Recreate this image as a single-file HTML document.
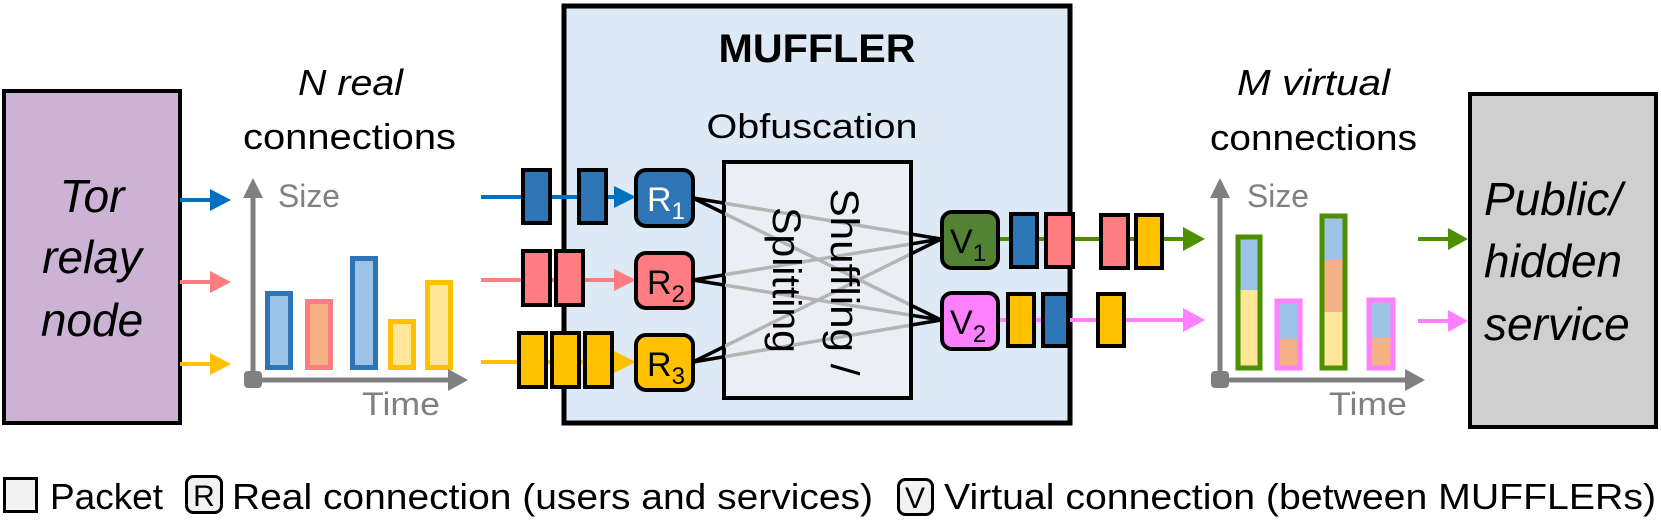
<!DOCTYPE html>
<html><head><meta charset="utf-8"><style>
html,body{margin:0;padding:0;background:#fff}
svg{display:block}
text{font-family:"Liberation Sans",sans-serif}
</style></head><body>
<svg width="1661" height="520" viewBox="0 0 1661 520" xmlns="http://www.w3.org/2000/svg">
<defs>
<clipPath id="inner"><rect x="725" y="163" width="184" height="233"/></clipPath>
</defs>

<!-- Tor relay node -->
<rect x="4" y="91" width="176" height="332" fill="#ccb3d6" stroke="#000" stroke-width="4"/>
<g font-style="italic" font-size="46" text-anchor="middle" fill="#000">
<text x="92" y="212">Tor</text>
<text x="92" y="273">relay</text>
<text x="92" y="336">node</text>
</g>
<!-- left arrows -->
<g stroke-width="4">
<line x1="180" y1="200" x2="212" y2="200" stroke="#0070c0"/>
<line x1="180" y1="282" x2="212" y2="282" stroke="#ff7c80"/>
<line x1="180" y1="364" x2="212" y2="364" stroke="#ffc000"/>
</g>
<polygon points="210,189 231,200 210,211" fill="#0070c0"/>
<polygon points="210,271 231,282 210,293" fill="#ff7c80"/>
<polygon points="210,353 231,364 210,375" fill="#ffc000"/>

<!-- left chart -->
<text x="298" y="95" font-style="italic" font-size="36" textLength="105" lengthAdjust="spacingAndGlyphs">N real</text>
<text x="243" y="149" font-size="36" textLength="213" lengthAdjust="spacingAndGlyphs">connections</text>
<text x="278" y="207" font-size="32" fill="#808080" textLength="62" lengthAdjust="spacingAndGlyphs">Size</text>
<text x="362" y="415" font-size="32" fill="#808080" textLength="78" lengthAdjust="spacingAndGlyphs">Time</text>
<g stroke-width="5">
<rect x="267.5" y="293.5" width="23" height="74" fill="#9dc3e6" stroke="#2e75b6"/>
<rect x="307.5" y="301.5" width="23" height="66" fill="#f4b183" stroke="#ff7c80"/>
<rect x="352.5" y="258.5" width="23" height="109" fill="#9dc3e6" stroke="#2e75b6"/>
<rect x="390.5" y="321.5" width="23" height="46" fill="#ffe699" stroke="#ffc000"/>
<rect x="427.5" y="282.5" width="23" height="85" fill="#ffe699" stroke="#ffc000"/>
</g>
<line x1="253" y1="190" x2="253" y2="380" stroke="#808080" stroke-width="5"/>
<polygon points="243,198 253,178 263,198" fill="#808080"/>
<line x1="253" y1="380" x2="452" y2="380" stroke="#808080" stroke-width="5"/>
<polygon points="448,369 468,380 448,391" fill="#808080"/>
<rect x="244" y="371" width="18" height="17" rx="4" fill="#808080"/>

<!-- MUFFLER -->
<rect x="564" y="6" width="506" height="417" fill="#dde9f5" stroke="#000" stroke-width="5"/>
<text x="817" y="62" font-weight="bold" font-size="40" text-anchor="middle" textLength="197" lengthAdjust="spacingAndGlyphs">MUFFLER</text>
<text x="812" y="138" font-size="34" text-anchor="middle" textLength="211" lengthAdjust="spacingAndGlyphs">Obfuscation</text>

<!-- black connector lines -->
<g stroke="#000" stroke-width="3.5">
<line x1="693" y1="198" x2="941" y2="239"/>
<line x1="693" y1="198" x2="941" y2="320"/>
<line x1="693" y1="280" x2="941" y2="239"/>
<line x1="693" y1="280" x2="941" y2="320"/>
<line x1="693" y1="362" x2="941" y2="239"/>
<line x1="693" y1="362" x2="941" y2="320"/>
</g>
<rect x="724" y="162" width="187" height="236" fill="#ebeff3" stroke="#000" stroke-width="4"/>
<g stroke="#b4b4b4" stroke-width="3.5" clip-path="url(#inner)">
<line x1="693" y1="198" x2="941" y2="239"/>
<line x1="693" y1="198" x2="941" y2="320"/>
<line x1="693" y1="280" x2="941" y2="239"/>
<line x1="693" y1="280" x2="941" y2="320"/>
<line x1="693" y1="362" x2="941" y2="239"/>
<line x1="693" y1="362" x2="941" y2="320"/>
</g>
<g transform="translate(817,282) rotate(90)" font-size="40" text-anchor="middle">
<text x="0" y="-14" textLength="187" lengthAdjust="spacingAndGlyphs">Shuffling /</text>
<text x="-2" y="44" textLength="146" lengthAdjust="spacingAndGlyphs">Splitting</text>
</g>

<!-- input lines -->
<line x1="481" y1="197" x2="616" y2="197" stroke="#0070c0" stroke-width="4"/>
<polygon points="614,186 636,197 614,208" fill="#0070c0"/>
<line x1="481" y1="280" x2="616" y2="280" stroke="#ff7c80" stroke-width="4"/>
<polygon points="614,269 636,280 614,291" fill="#ff7c80"/>
<line x1="481" y1="362" x2="616" y2="362" stroke="#ffc000" stroke-width="4"/>
<polygon points="614,351 636,362 614,373" fill="#ffc000"/>
<g stroke="#000" stroke-width="4">
<rect x="523" y="170" width="27" height="53" fill="#2e75b6"/>
<rect x="579" y="170" width="27" height="53" fill="#2e75b6"/>
<rect x="523" y="251" width="27" height="54" fill="#ff7c80"/>
<rect x="556" y="251" width="27" height="54" fill="#ff7c80"/>
<rect x="519" y="333" width="27" height="54" fill="#ffc000"/>
<rect x="552" y="333" width="27" height="54" fill="#ffc000"/>
<rect x="585" y="333" width="27" height="54" fill="#ffc000"/>
</g>
<!-- R boxes -->
<g stroke="#000" stroke-width="4">
<rect x="636" y="170" width="57" height="56" rx="10" fill="#2e75b6"/>
<rect x="636" y="253" width="57" height="55" rx="10" fill="#ff7c80"/>
<rect x="636" y="335" width="57" height="55" rx="10" fill="#ffc000"/>
</g>
<g font-size="34">
<text x="647" y="211" fill="#fff">R<tspan font-size="24" dy="8">1</tspan></text>
<text x="647" y="294">R<tspan font-size="24" dy="8">2</tspan></text>
<text x="647" y="376">R<tspan font-size="24" dy="8">3</tspan></text>
</g>

<!-- output lines -->
<line x1="998" y1="239" x2="1186" y2="239" stroke="#4e8f00" stroke-width="4"/>
<polygon points="1183,227 1205,239 1183,251" fill="#4e8f00"/>
<line x1="998" y1="320" x2="1186" y2="320" stroke="#ff80ff" stroke-width="4"/>
<polygon points="1183,308 1205,320 1183,332" fill="#ff80ff"/>
<g stroke="#000" stroke-width="4">
<rect x="1011" y="214" width="26" height="53" fill="#2e75b6"/>
<rect x="1046" y="214" width="27" height="53" fill="#ff7c80"/>
<rect x="1101" y="215" width="27" height="53" fill="#ff7c80"/>
<rect x="1136" y="215" width="26" height="53" fill="#ffc000"/>
<rect x="1008" y="294" width="26" height="52" fill="#ffc000"/>
<rect x="1043" y="294" width="25" height="52" fill="#2e75b6"/>
<rect x="1098" y="294" width="26" height="52" fill="#ffc000"/>
</g>
<g stroke="#000" stroke-width="4">
<rect x="942" y="212" width="56" height="56" rx="10" fill="#548235"/>
<rect x="942" y="293" width="56" height="56" rx="10" fill="#ff80ff"/>
</g>
<g font-size="34">
<text x="950" y="253">V<tspan font-size="24" dy="8">1</tspan></text>
<text x="950" y="334">V<tspan font-size="24" dy="8">2</tspan></text>
</g>

<!-- right chart -->
<text x="1237" y="95" font-style="italic" font-size="36" textLength="153" lengthAdjust="spacingAndGlyphs">M virtual</text>
<text x="1210" y="150" font-size="36" textLength="207" lengthAdjust="spacingAndGlyphs">connections</text>
<text x="1247" y="207" font-size="32" fill="#808080" textLength="62" lengthAdjust="spacingAndGlyphs">Size</text>
<text x="1329" y="415" font-size="32" fill="#808080" textLength="78" lengthAdjust="spacingAndGlyphs">Time</text>
<!-- stacked bars -->
<rect x="1238" y="237" width="22" height="53" fill="#9dc3e6"/>
<rect x="1238" y="290" width="22" height="78" fill="#ffe699"/>
<rect x="1238" y="237" width="22" height="131" fill="none" stroke="#4e8f00" stroke-width="5"/>
<rect x="1277" y="301" width="23" height="38" fill="#9dc3e6"/>
<rect x="1277" y="339" width="23" height="29" fill="#f4b183"/>
<rect x="1277" y="301" width="23" height="67" fill="none" stroke="#ff80ff" stroke-width="5"/>
<rect x="1322" y="216" width="23" height="44" fill="#9dc3e6"/>
<rect x="1322" y="260" width="23" height="52" fill="#f4b183"/>
<rect x="1322" y="312" width="23" height="56" fill="#ffe699"/>
<rect x="1322" y="216" width="23" height="152" fill="none" stroke="#4e8f00" stroke-width="5"/>
<rect x="1369" y="300" width="24" height="38" fill="#9dc3e6"/>
<rect x="1369" y="338" width="24" height="30" fill="#f4b183"/>
<rect x="1369" y="300" width="24" height="68" fill="none" stroke="#ff80ff" stroke-width="5"/>
<line x1="1220" y1="190" x2="1220" y2="380" stroke="#808080" stroke-width="5"/>
<polygon points="1210,198 1220,178 1230,198" fill="#808080"/>
<line x1="1220" y1="380" x2="1410" y2="380" stroke="#808080" stroke-width="5"/>
<polygon points="1405,369 1425,380 1405,391" fill="#808080"/>
<rect x="1211" y="371" width="18" height="17" rx="4" fill="#808080"/>

<!-- right arrows -->
<line x1="1418" y1="239" x2="1450" y2="239" stroke="#4e8f00" stroke-width="4"/>
<polygon points="1448,228 1468,239 1448,250" fill="#4e8f00"/>
<line x1="1418" y1="321" x2="1450" y2="321" stroke="#ff80ff" stroke-width="4"/>
<polygon points="1448,310 1468,321 1448,332" fill="#ff80ff"/>

<!-- Public box -->
<rect x="1470" y="94" width="186" height="333" fill="#d0cfd0" stroke="#000" stroke-width="4"/>
<g font-style="italic" font-size="46" fill="#000">
<text x="1484" y="215">Public/</text>
<text x="1484" y="277">hidden</text>
<text x="1484" y="340">service</text>
</g>

<!-- legend -->
<rect x="4.5" y="478.5" width="32" height="33" fill="#f2f2f2" stroke="#000" stroke-width="3"/>
<text x="50" y="509" font-size="36" textLength="113" lengthAdjust="spacingAndGlyphs">Packet</text>
<rect x="186.5" y="476.5" width="35" height="36" rx="7" fill="#f2f2f2" stroke="#000" stroke-width="3"/>
<text x="204" y="506" font-size="30" text-anchor="middle">R</text>
<text x="232" y="509" font-size="36" textLength="641" lengthAdjust="spacingAndGlyphs">Real connection (users and services)</text>
<rect x="898.5" y="479.5" width="34" height="35" rx="7" fill="#f2f2f2" stroke="#000" stroke-width="3"/>
<text x="915" y="508" font-size="30" text-anchor="middle">V</text>
<text x="944" y="509" font-size="36" textLength="712" lengthAdjust="spacingAndGlyphs">Virtual connection (between MUFFLERs)</text>
</svg>
</body></html>
